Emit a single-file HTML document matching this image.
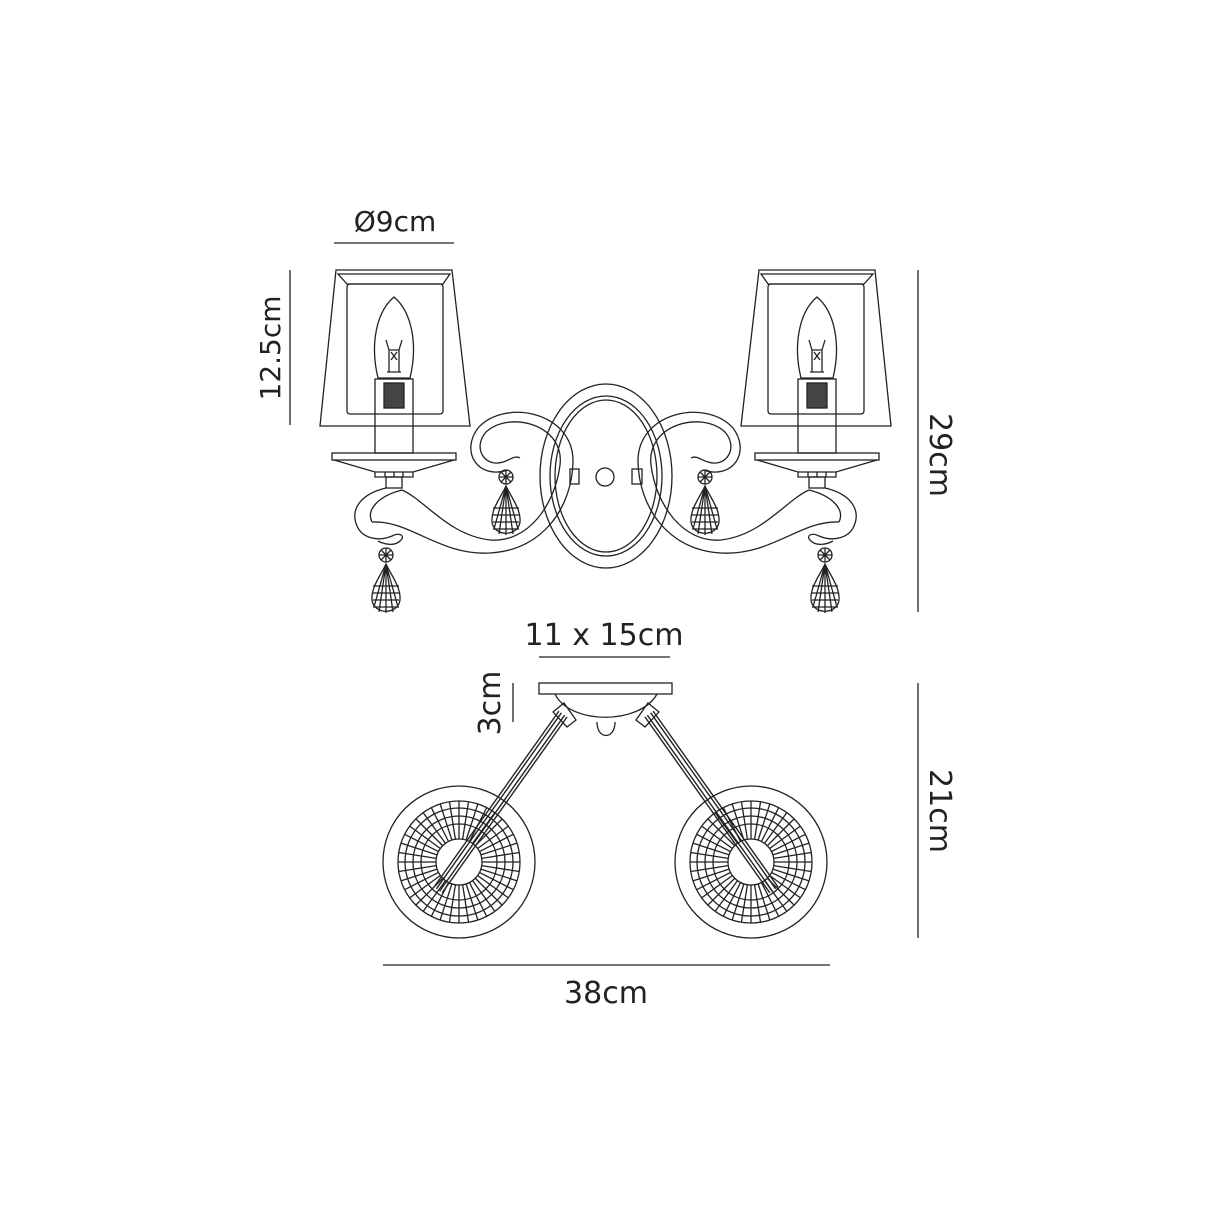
<!DOCTYPE html>
<html><head><meta charset="utf-8"><style>
html,body{margin:0;padding:0;background:#fff}
svg{display:block}
text{font-family:"DejaVu Sans","Liberation Sans",sans-serif;fill:#222}
</style></head><body>
<svg id="s" width="1214" height="1214" viewBox="0 0 1214 1214" xmlns="http://www.w3.org/2000/svg" fill="none" stroke="#222" stroke-width="1.3">
<line x1="334" y1="243" x2="454" y2="243"/>
<text x="395" y="231" font-size="28" text-anchor="middle" stroke="none">Ø9cm</text>
<line x1="290" y1="270" x2="290" y2="425"/>
<text transform="translate(280,348) rotate(-90)" font-size="28" text-anchor="middle" stroke="none">12.5cm</text>
<line x1="918" y1="270" x2="918" y2="612"/>
<text transform="translate(930,455) rotate(90)" font-size="30" text-anchor="middle" stroke="none">29cm</text>
<line x1="539" y1="657" x2="670" y2="657"/>
<text x="604" y="645" font-size="30" text-anchor="middle" stroke="none">11 x 15cm</text>
<line x1="513" y1="683" x2="513" y2="722"/>
<text transform="translate(500,703) rotate(-90)" font-size="30" text-anchor="middle" stroke="none">3cm</text>
<line x1="918" y1="683" x2="918" y2="938"/>
<text transform="translate(930,811) rotate(90)" font-size="30" text-anchor="middle" stroke="none">21cm</text>
<line x1="383" y1="965" x2="830" y2="965"/>
<text x="606" y="1003" font-size="30" text-anchor="middle" stroke="none">38cm</text>
<g id="topg"></g>
<g id="bot"></g>
</svg>
<script>
(function(){
var NS="http://www.w3.org/2000/svg";
function el(p,t,a){var e=document.createElementNS(NS,t);for(var k in a)e.setAttribute(k,a[k]);p.appendChild(e);return e;}
var tg=document.getElementById('topg');
function drop(g,x,y){
 el(g,'circle',{cx:x,cy:y,r:7});
 el(g,'path',{d:'M'+(x-7)+' '+y+' L'+(x+7)+' '+y+' M'+x+' '+(y-7)+' L'+x+' '+(y+7)+' M'+(x-5)+' '+(y-5)+' L'+(x+5)+' '+(y+5)+' M'+(x+5)+' '+(y-5)+' L'+(x-5)+' '+(y+5)});
 el(g,'path',{d:'M'+x+' '+(y+9)+' C'+(x-5)+' '+(y+20)+' '+(x-15)+' '+(y+32)+' '+(x-14)+' '+(y+45)+' C'+(x-12)+' '+(y+60)+' '+(x+12)+' '+(y+60)+' '+(x+14)+' '+(y+45)+' C'+(x+15)+' '+(y+32)+' '+(x+5)+' '+(y+20)+' '+x+' '+(y+9)+' Z'});
 for(var i=1;i<5;i++){el(g,'line',{x1:x-13,y1:y+24+i*7,x2:x+13,y2:y+24+i*7});}
 el(g,'path',{d:'M'+x+' '+(y+9)+' L'+(x-7)+' '+(y+57)+' M'+x+' '+(y+9)+' L'+(x+7)+' '+(y+57)+' M'+x+' '+(y+9)+' L'+x+' '+(y+58)+' M'+x+' '+(y+9)+' L'+(x-12)+' '+(y+52)+' M'+x+' '+(y+9)+' L'+(x+12)+' '+(y+52)});
}
function lamp(g){
 el(g,'path',{d:'M336 270 L452 270 L470 426 L320 426 Z'});
 el(g,'path',{d:'M338 274 L450 274 L443 284 L347 284 Z'});
 el(g,'rect',{x:347,y:284,width:96,height:130,rx:3});
 el(g,'path',{d:'M394 297 C376 312 370 345 378 378 L410 378 C418 345 412 312 394 297 Z'});
 el(g,'path',{d:'M386 340 L389 350 L399 350 L402 340 M389 350 L389 372 M399 350 L399 372 M387 372 L401 372 M391 352 L397 360 M397 352 L391 360'});
 el(g,'rect',{x:375,y:379,width:38,height:74});
 el(g,'rect',{x:384,y:383,width:20,height:25,fill:'#444'});
 el(g,'rect',{x:332,y:453,width:124,height:7});
 el(g,'path',{d:'M334 460 L375 472 L413 472 L454 460 M375 472 L375 477 L413 477 L413 472 M385 472 L385 477 M394 472 L394 477 M403 472 L403 477'});
 el(g,'rect',{x:386,y:477,width:16,height:11});
 // left curl
 el(g,'path',{d:'M386 488 C360 494 350 510 357 526 C362 538 378 542 392 536 C400 532 406 536 400 541 C395 546 385 545 378 541'});
 el(g,'path',{d:'M402 490 C378 496 366 510 372 522'});
 // S band
 el(g,'path',{d:'M402 490 C425 500 448 535 490 540 C528 543 555 505 560 465 C565 425 510 410 486 432 C472 448 485 468 503 462 C510 460 515 455 520 458'});
 el(g,'path',{d:'M372 522 C410 520 440 556 490 553 C545 550 572 505 573 462 C574 412 505 398 478 428 C460 452 478 480 508 470'});
 drop(g,386,555);drop(g,506,477);
}
lamp(el(tg,'g',{}));
lamp(el(tg,'g',{transform:'translate(1211,0) scale(-1,1)'}));
el(tg,'ellipse',{cx:606,cy:476,rx:66,ry:92});
el(tg,'ellipse',{cx:606,cy:476,rx:56,ry:80});
el(tg,'ellipse',{cx:606,cy:476,rx:51,ry:76});
el(tg,'circle',{cx:605,cy:477,r:9});
el(tg,'rect',{x:570,y:469,width:9,height:15});
el(tg,'rect',{x:632,y:469,width:10,height:15});
var b=document.getElementById('bot');
el(b,'rect',{x:539,y:683,width:133,height:11});
el(b,'path',{d:'M555 694 C570 725 640 725 657 694'});
el(b,'path',{d:'M597 722 C597 740 615 740 615 722'});
function wheel(cx,cy){
 el(b,'circle',{cx:cx,cy:cy,r:76});
 el(b,'circle',{cx:cx,cy:cy,r:61});
 el(b,'circle',{cx:cx,cy:cy,r:54});
 el(b,'circle',{cx:cx,cy:cy,r:46});
 el(b,'circle',{cx:cx,cy:cy,r:38});
 el(b,'circle',{cx:cx,cy:cy,r:23});
 for(var i=0;i<40;i++){var a=i*Math.PI/20;el(b,'line',{x1:cx+23*Math.cos(a),y1:cy+23*Math.sin(a),x2:cx+61*Math.cos(a),y2:cy+61*Math.sin(a)});}
}
wheel(459,862);wheel(751,862);
function arm(x1,y1,x2,y2){
 var dx=x2-x1,dy=y2-y1,l=Math.hypot(dx,dy),nx=-dy/l,ny=dx/l;
 [-5,-2,2,5].forEach(function(o){el(b,'line',{x1:x1+nx*o,y1:y1+ny*o,x2:x2+nx*o,y2:y2+ny*o,'stroke-width':1.4});});
}
arm(563,714,438,890);arm(649,714,774,890);
el(b,'path',{d:'M553 712 L564 703 L576 720 L567 727 Z'});
el(b,'path',{d:'M659 712 L648 703 L636 720 L645 727 Z'});
})();
</script>
</body></html>
